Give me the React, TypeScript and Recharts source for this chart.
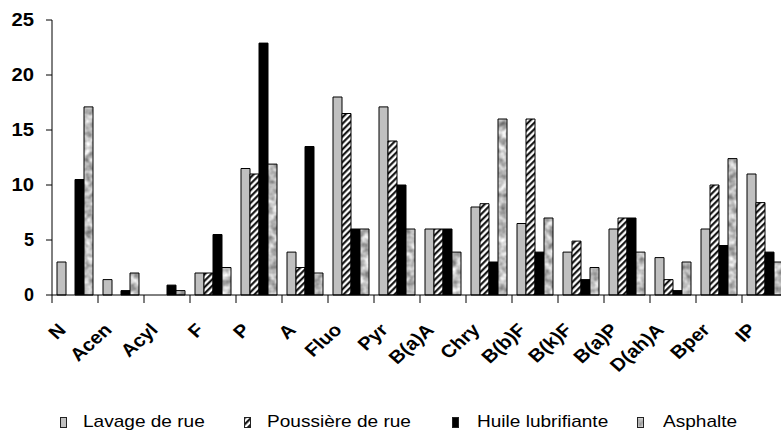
import React from 'react';
import { BarChart, Bar, XAxis, YAxis, Legend } from 'recharts';

const categories = ['N', 'Acen', 'Acyl', 'F', 'P', 'A', 'Fluo', 'Pyr', 'B(a)A', 'Chry', 'B(b)F', 'B(k)F', 'B(a)P', 'D(ah)A', 'Bper', 'IP'];
const lavage = [3.0, 1.4, 0, 2.0, 11.5, 3.9, 18.0, 17.1, 6.0, 8.0, 6.5, 3.9, 6.0, 3.4, 6.0, 11.0];
const poussiere = [0, 0, 0, 2.0, 11.0, 2.5, 16.5, 14.0, 6.0, 8.3, 16.0, 4.9, 7.0, 1.4, 10.0, 8.4];
const huile = [10.5, 0.4, 0.9, 5.5, 22.9, 13.5, 6.0, 10.0, 6.0, 3.0, 3.9, 1.4, 7.0, 0.4, 4.5, 3.9];
const asphalte = [17.1, 2.0, 0.4, 2.5, 11.9, 2.0, 6.0, 6.0, 3.9, 16.0, 7.0, 2.5, 3.9, 3.0, 12.4, 3.0];
const yTicks = [0, 5, 10, 15, 20, 25];

const seriesNames = ['Lavage de rue', 'Poussière de rue', 'Huile lubrifiante', 'Asphalte'];
const seriesKeys = ['lavage', 'poussiere', 'huile', 'asphalte'];
const seriesFills = ['#c0c0c0', 'url(#hatch)', '#000000', 'url(#asph)'];

const data = categories.map((name, i) => ({
  name,
  lavage: lavage[i],
  poussiere: poussiere[i],
  huile: huile[i],
  asphalte: asphalte[i],
}));

const FONT = '"Liberation Sans", Arial, Helvetica, sans-serif';
const STRETCH = 1.12;

const XTick = (props: any) => {
  const { x, y, payload } = props;
  const off = payload && payload.offset ? payload.offset : 23;
  const ax = x - 8;
  const ay = y + 36;
  return (
    <g>
      <line x1={x - off} y1={y} x2={x - off} y2={y + 8} stroke="#000" strokeWidth={1} />
      <text
        x={0}
        y={0}
        transform={`translate(${ax} ${ay}) scale(${STRETCH} 1) rotate(-45)`}
        textAnchor="end"
        fontSize={18}
        fontWeight="bold"
        fontFamily={FONT}
        fill="#000"
      >
        {payload.value}
      </text>
    </g>
  );
};

const YTick = (props: any) => {
  const { x, y, payload } = props;
  return (
    <text
      x={x}
      y={y}
      textAnchor="end"
      dy="0.355em"
      fontSize={18}
      fontWeight="bold"
      fontFamily={FONT}
      fill="#000"
      textLength={String(payload.value).length > 1 ? 22.5 : undefined}
      lengthAdjust="spacingAndGlyphs"
    >
      {payload.value}
    </text>
  );
};

const legendIconX = [61, 245, 453, 638];
const legendTextX = [83, 267, 477, 663];

const LegendContent = () => (
  <div style={{ position: 'relative', width: 781, height: 30 }}>
    {seriesNames.map((n, i) => (
      <React.Fragment key={n}>
        <svg
          width={8}
          height={12}
          style={{ position: 'absolute', left: legendIconX[i] - 1, top: 15 }}
        >
          <rect x={0.5} y={0.5} width={6} height={10} fill={seriesFills[i]} stroke="#222" strokeWidth={1} />
        </svg>
        <div
          style={{
            position: 'absolute',
            left: legendTextX[i],
            top: 10,
            fontFamily: FONT,
            fontSize: 17,
            lineHeight: '20px',
            color: '#000',
            whiteSpace: 'nowrap',
            transform: `scaleX(${STRETCH})`,
            transformOrigin: 'left center',
          }}
        >
          {n}
        </div>
      </React.Fragment>
    ))}
  </div>
);

export default function App() {
  return (
    <div
      style={{
        position: 'fixed',
        left: 0,
        top: 0,
        width: 781,
        height: 432,
        overflow: 'hidden',
        background: '#fff',
      }}
    >
      <svg width={0} height={0} style={{ position: 'absolute' }}>
        <defs>
          <pattern id="hatch" patternUnits="userSpaceOnUse" width={4.5} height={4.5} patternTransform="rotate(45)">
            <rect x={0} y={0} width={4.5} height={4.5} fill="#fff" />
            <line x1={1.2} y1={0} x2={1.2} y2={4.5} stroke="#000" strokeWidth={2} />
          </pattern>
          <filter id="mottle" x="0" y="0" width="100%" height="100%" colorInterpolationFilters="sRGB">
            <feTurbulence type="fractalNoise" baseFrequency="0.14" numOctaves={2} seed={7} result="n" />
            <feColorMatrix
              in="n"
              type="matrix"
              values="0.8 0 0 0 0.34  0.8 0 0 0 0.34  0.8 0 0 0 0.34  0 0 0 0 1"
            />
          </filter>
          <pattern id="asph" patternUnits="userSpaceOnUse" width={800} height={432}>
            <rect x={0} y={0} width={800} height={432} filter="url(#mottle)" />
          </pattern>
        </defs>
      </svg>
      <BarChart
        width={788}
        height={432}
        data={data}
        margin={{ top: 20, right: 0, bottom: 0, left: 0 }}
        barCategoryGap={5}
        barGap={0}
      >
        <XAxis
          dataKey="name"
          height={107}
          interval={0}
          tickLine={false}
          tickSize={0}
          tickMargin={0}
          axisLine={{ stroke: '#000', strokeWidth: 1 }}
          tick={(p: any) => <XTick {...p} />}
        />
        <YAxis
          width={52}
          domain={[0, 25]}
          ticks={yTicks}
          interval={0}
          tickSize={6}
          tickMargin={12}
          tickLine={{ stroke: '#000', strokeWidth: 1 }}
          axisLine={{ stroke: '#000', strokeWidth: 1 }}
          tick={(p: any) => <YTick {...p} />}
        />
        <Legend
          verticalAlign="bottom"
          wrapperStyle={{ left: 0, bottom: 0, width: 781, height: 30 }}
          content={<LegendContent />}
        />
        {seriesKeys.map((k, i) => (
          <Bar
            key={k}
            dataKey={k}
            name={seriesNames[i]}
            fill={seriesFills[i]}
            stroke="#000"
            strokeWidth={1}
            isAnimationActive={false}
          />
        ))}
      </BarChart>
    </div>
  );
}
